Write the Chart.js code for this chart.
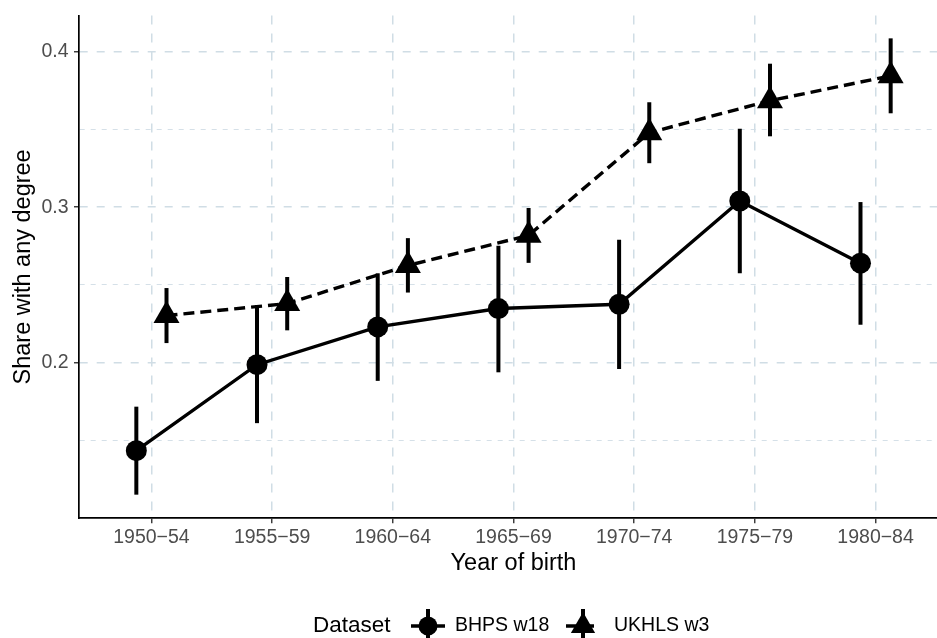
<!DOCTYPE html>
<html>
<head>
<meta charset="utf-8">
<script src="https://cdn.jsdelivr.net/npm/chart.js@4.4.1/dist/chart.umd.min.js"></script>
<style>
  html, body { margin: 0; padding: 0; background: #ffffff; overflow: hidden; }
  #wrap { width: 937px; height: 638px; position: relative; overflow: hidden; }
  #c { display: block; }
</style>
</head>
<body>
<div id="wrap"><canvas id="c" width="948" height="638"></canvas></div>
<script>
// ---- data ----
const categories = ['1950\u221254', '1955\u221259', '1960\u221264', '1965\u221269', '1970\u221274', '1975\u221279', '1980\u221284'];
const seriesNames = ['BHPS w18', 'UKHLS w3'];
const legendTitle = 'Dataset';
const xTitle = 'Year of birth';
const yTitle = 'Share with any degree';

const bhpsEst = [0.1434, 0.1987, 0.2230, 0.2348, 0.2376, 0.3040, 0.2640];
const bhpsLo  = [0.1151, 0.1611, 0.1883, 0.1938, 0.1960, 0.2575, 0.2244];
const bhpsHi  = [0.1717, 0.2370, 0.2575, 0.2752, 0.2790, 0.3505, 0.3033];

const ukhlsEst = [0.2303, 0.2380, 0.2625, 0.2819, 0.3479, 0.3685, 0.3845];
const ukhlsLo  = [0.2126, 0.2208, 0.2451, 0.2642, 0.3283, 0.3456, 0.3604];
const ukhlsHi  = [0.2480, 0.2551, 0.2801, 0.2995, 0.3675, 0.3923, 0.4086];

const yTicks = [0.15, 0.2, 0.25, 0.3, 0.35, 0.4];
const yTickLabels = ['', '0.2', '', '0.3', '', '0.4'];

// ---- styling ----
const FONT = "'Liberation Sans', Arial, Helvetica, sans-serif";
const GRID = '#d0dde5';
const dodge = 0.125;

function build(est, lo, hi, off) {
  return est.map((v, i) => ({ x: i + 1 + off, y: v, lo: lo[i], hi: hi[i] }));
}

const errorBars = {
  id: 'errorBars',
  afterDatasetsDraw(chart) {
    const { ctx, scales: { x, y } } = chart;
    ctx.save();
    ctx.strokeStyle = '#000';
    ctx.lineWidth = 4;
    ctx.lineCap = 'butt';
    chart.data.datasets.forEach(ds => {
      ds.data.forEach(p => {
        const px = x.getPixelForValue(p.x);
        ctx.beginPath();
        ctx.moveTo(px, y.getPixelForValue(p.lo));
        ctx.lineTo(px, y.getPixelForValue(p.hi));
        ctx.stroke();
      });
    });
    ctx.restore();
  }
};

const customLegend = {
  id: 'customLegend',
  afterDraw(chart) {
    const ctx = chart.ctx;
    const cy = 626;
    ctx.save();
    ctx.fillStyle = '#000';
    ctx.textBaseline = 'middle';
    ctx.textAlign = 'left';
    ctx.font = '22.5px ' + FONT;
    ctx.fillText(legendTitle, 313, cy);
    ctx.font = '19.5px ' + FONT;
    // key 1: circle
    const k1 = 428;
    ctx.strokeStyle = '#000';
    ctx.lineWidth = 3.4;
    ctx.beginPath(); ctx.moveTo(k1 - 17, cy); ctx.lineTo(k1 + 17, cy); ctx.stroke();
    ctx.lineWidth = 4;
    ctx.beginPath(); ctx.moveTo(k1, cy - 17); ctx.lineTo(k1, cy + 17); ctx.stroke();
    ctx.beginPath(); ctx.arc(k1, cy, 9.5, 0, Math.PI * 2); ctx.fill();
    ctx.fillText(seriesNames[0], 455, cy);
    // key 2: triangle
    const k2 = 583;
    ctx.lineWidth = 3.4;
    ctx.setLineDash([11, 6]);
    ctx.beginPath(); ctx.moveTo(k2 - 17, cy); ctx.lineTo(k2 + 17, cy); ctx.stroke();
    ctx.setLineDash([]);
    ctx.lineWidth = 4;
    ctx.beginPath(); ctx.moveTo(k2, cy - 17); ctx.lineTo(k2, cy + 17); ctx.stroke();
    const r = 14;
    ctx.beginPath();
    ctx.moveTo(k2, cy - r);
    ctx.lineTo(k2 + r * Math.sin(2 * Math.PI / 3), cy - r * Math.cos(2 * Math.PI / 3));
    ctx.lineTo(k2 + r * Math.sin(4 * Math.PI / 3), cy - r * Math.cos(4 * Math.PI / 3));
    ctx.closePath(); ctx.fill();
    ctx.fillText(seriesNames[1], 614, cy);
    ctx.restore();
  }
};

new Chart(document.getElementById('c'), {
  type: 'line',
  data: {
    datasets: [
      {
        label: seriesNames[0],
        data: build(bhpsEst, bhpsLo, bhpsHi, -dodge),
        borderColor: '#000',
        backgroundColor: '#000',
        borderWidth: 3.4,
        pointStyle: 'circle',
        pointRadius: 10.5,
        pointBorderWidth: 0,
        pointBackgroundColor: '#000',
        tension: 0,
        fill: false
      },
      {
        label: seriesNames[1],
        data: build(ukhlsEst, ukhlsLo, ukhlsHi, dodge),
        borderColor: '#000',
        backgroundColor: '#000',
        borderWidth: 3.4,
        borderDash: [11, 6],
        pointStyle: 'triangle',
        pointRadius: 15,
        pointBorderWidth: 0,
        pointBackgroundColor: '#000',
        tension: 0,
        fill: false
      }
    ]
  },
  options: {
    responsive: false,
    animation: false,
    devicePixelRatio: 1,
    layout: { autoPadding: false, padding: { top: 15.5, right: 0, bottom: 0, left: 0 } },
    plugins: { legend: { display: false }, tooltip: { enabled: false } },
    scales: {
      x: {
        type: 'linear',
        position: 'bottom',
        min: 0.4,
        max: 7.6,
        afterBuildTicks: (s) => { s.ticks = categories.map((c, i) => ({ value: i + 1 })); },
        afterFit: (s) => { s.height = 638 - 518.3; s.paddingLeft = 0; s.paddingRight = 0; },
        ticks: {
          autoSkip: false,
          maxRotation: 0,
          minRotation: 0,
          padding: 3,
          color: '#4d4d4d',
          font: { family: FONT, size: 19.5 },
          callback: (v) => categories[Math.round(v) - 1]
        },
        grid: {
          color: GRID,
          lineWidth: 1.5,
          tickLength: 5,
          tickWidth: 1.4,
          tickColor: '#333333',
          tickBorderDash: []
        },
        border: { display: true, color: '#000', width: 1.7, dash: [9, 9] },
        title: {
          display: true,
          text: xTitle,
          color: '#000',
          font: { family: FONT, size: 23.5 },
          padding: { top: 0, bottom: 60 }
        }
      },
      y: {
        type: 'linear',
        position: 'left',
        min: 0.0999,
        max: 0.4233,
        afterBuildTicks: (s) => { s.ticks = yTicks.map(v => ({ value: v })); },
        afterFit: (s) => { s.width = 79; s.paddingTop = 0; s.paddingBottom = 0; },
        ticks: {
          autoSkip: false,
          padding: 5.5,
          color: '#4d4d4d',
          font: { family: FONT, size: 19.5 },
          callback: (v, i) => yTickLabels[i]
        },
        grid: {
          color: GRID,
          lineWidth: (c) => (c.index % 2 === 0 ? 0.9 : 1.5),
          tickLength: 5,
          tickWidth: 1.4,
          tickColor: (c) => (c.index % 2 === 0 ? 'rgba(0,0,0,0)' : '#333333'),
          tickBorderDash: []
        },
        border: {
          display: true, color: '#000', width: 1.7,
          dash: (c) => (c.index !== undefined && c.index % 2 === 0 ? [5, 6] : [8, 9])
        },
        title: {
          display: true,
          text: yTitle,
          color: '#000',
          font: { family: FONT, size: 23.5 },
          padding: { top: 9, bottom: 0 }
        }
      }
    }
  },
  plugins: [errorBars, customLegend]
});
</script>
</body>
</html>
